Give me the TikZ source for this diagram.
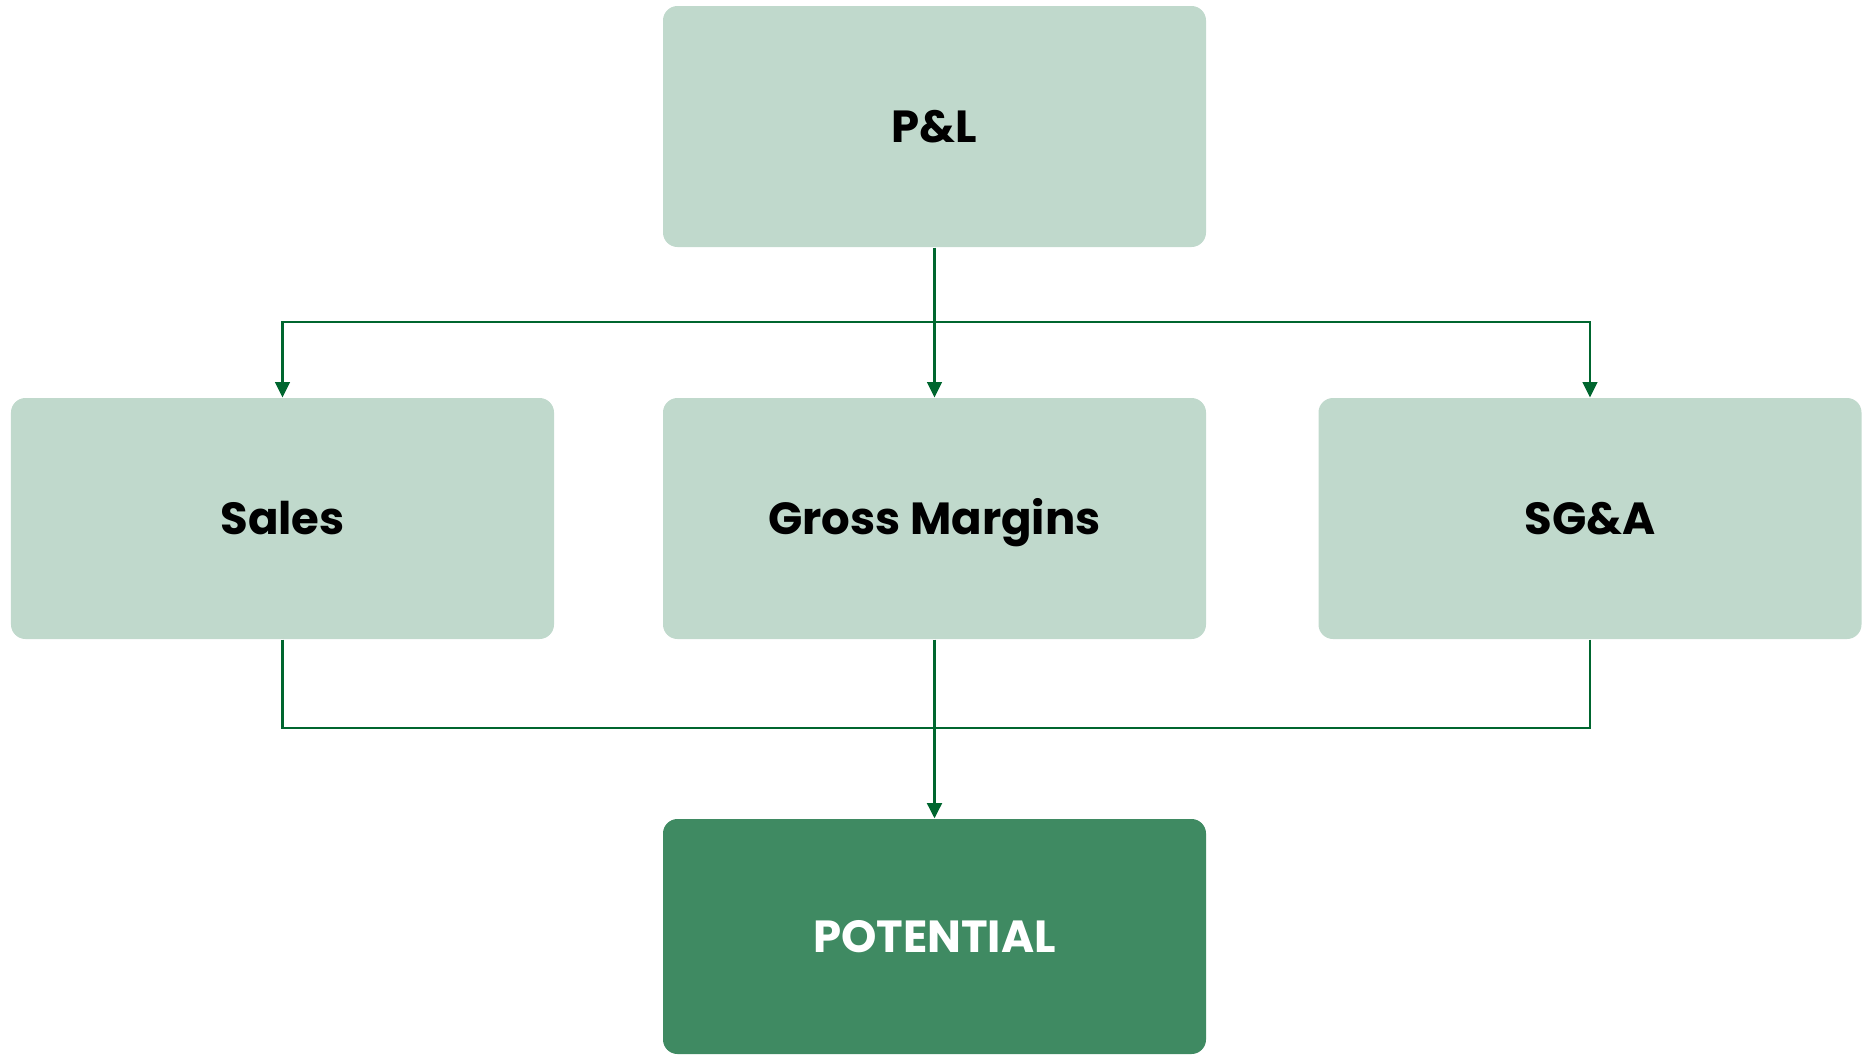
\documentclass[tikz,border=0pt]{standalone}
\usepackage{fontspec}
\setmainfont{Poppins}
\usetikzlibrary{arrows.meta}
\definecolor{boxlight}{HTML}{C0D9CC}
\definecolor{boxdark}{HTML}{3F8A62}
\definecolor{linkgreen}{HTML}{00662F}
\tikzset{
  card/.style={rounded corners=5.8pt, minimum width=217.2pt, minimum height=96.4pt,
    inner sep=0pt, text height=12.6pt, text depth=0pt,
    fill=boxlight, draw=none, font=\fontsize{18}{22}\selectfont\bfseries, text=black},
  result/.style={card, fill=boxdark, text=white, minimum height=94pt},
  link/.style={draw=linkgreen, line width=1.1pt},
  linkarrow/.style={link, -{Triangle[length=6.2pt,width=5.8pt]}}
}
\begin{document}
\begin{tikzpicture}[x=0.4pt,y=-0.4pt]
\useasboundingbox (0,0) rectangle (1869,1055);
\node[card] (pl) at (934.5,126.5) {P\&L};
\node[card] (sales) at (282.5,518.5) {Sales};
\node[card] (gm) at (934.5,518.5) {Gross Margins};
\node[card] (sga) at (1590,518.5) {SG\&A};
\node[result] (pot) at (934.5,936.5) {POTENTIAL};
% split from P&L to the three areas
\coordinate (split) at (934.5,322);
\draw[link, line width=1.4pt] (pl.south) -- (split);
\draw[linkarrow] (split) -| (sales.north);
\draw[linkarrow] (split) -| (sga.north);
\draw[linkarrow] (split) -- (gm.north);
% merge of the three areas into the result
\coordinate (merge) at (934.5,728);
\draw[link] (sales.south) |- (merge);
\draw[link] (sga.south) |- (merge);
\draw[link] (gm.south) -- (merge);
\draw[linkarrow, line width=1.4pt] (merge) -- (pot.north);
\end{tikzpicture}
\end{document}
